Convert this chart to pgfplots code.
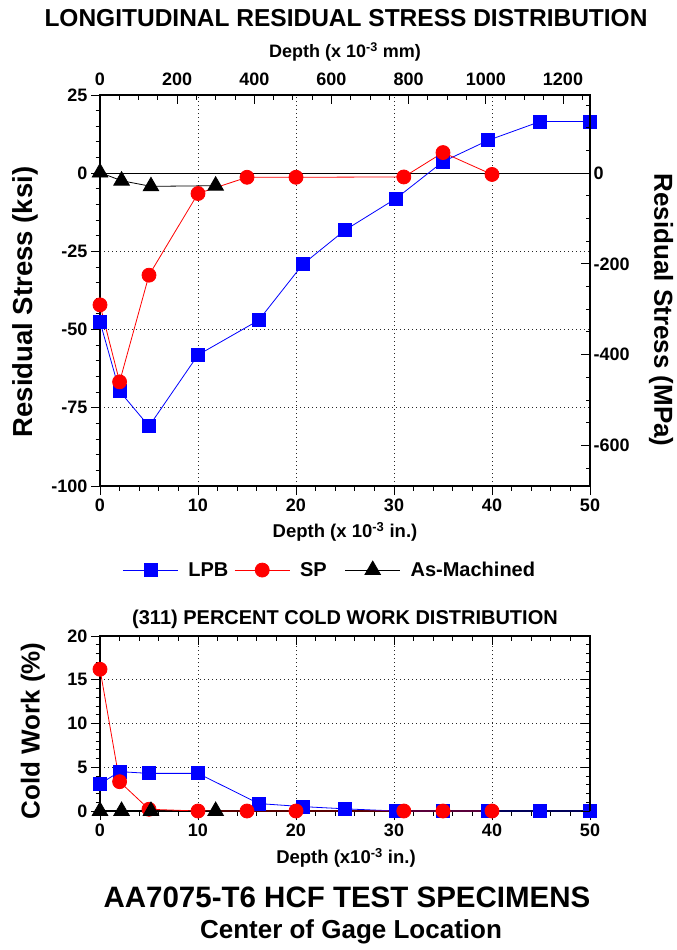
\documentclass[border=0pt]{standalone}
\usepackage{fontspec}
\setmainfont{Liberation Sans}
\usepackage{pgfplots}
\pgfplotsset{compat=1.18}

\newcommand{\fs}[1]{\fontsize{#1}{#1}\selectfont\bfseries}

\pgfplotsset{
  base/.style={scale only axis, width=490pt, clip=false, xmin=0, xmax=50,
    /pgf/number format/assume math mode=true,
    /pgf/number format/1000 sep={},
    tick label style={font=\fs{18}},
    axis line style={line width=1.4pt},
    major tick length=9pt, minor tick length=4.5pt,
    every tick/.style={black, line width=1pt},
  },
  griddots/.style={grid=major, major grid style={black!85, line width=1pt, dash pattern=on 1.1pt off 2.9pt}},
  lpb/.style={blue, line width=0.8pt, mark=square*, mark size=6.5pt, mark options={solid, fill=blue, draw=blue}},
  sp/.style={red, line width=0.8pt, mark=*, mark size=7pt, mark options={solid, fill=red, draw=red}},
  asm/.style={black, line width=0.8pt, mark=triangle*, mark size=9pt, mark options={solid, fill=black}},
}

\begin{document}
\begin{tikzpicture}

% residual stress, ksi and inches
\begin{axis}[base, at={(100pt,-486pt)}, anchor=south west, height=391pt,
  ymin=-100, ymax=25,
  xtick={0,10,...,50}, ytick={-100,-75,...,25},
  minor x tick num=4, minor y tick num=4,
  xtick pos=lower, ytick pos=left, tick align=outside,
  griddots,
  extra y ticks={0}, extra y tick labels={},
  extra y tick style={grid=major, major grid style={solid, black, line width=1.3pt}, major tick length=0pt},
  legend style={at={(0.469,-0.215)}, anchor=center, draw=none, fill=none,
    legend columns=3, font=\fs{20}},
  legend cell align=left,
  legend image code/.code={\draw[mark repeat=2, mark phase=2, #1] plot coordinates {(0pt,0pt) (27.5pt,0pt) (55pt,0pt)};},
]
\addplot[lpb] coordinates {(0,-47.5)(2,-69.7)(5,-80.9)(10,-58.1)(16.2,-47)(20.7,-29.1)(25,-18.2)(30.2,-8.1)(35,3.7)(39.6,10.5)(44.9,16.5)(50,16.5)};
\addlegendentry{\hspace{8pt}LPB\hspace*{4pt}\mbox{}}
\addplot[sp] coordinates {(0,-42.1)(2,-66.7)(5,-32.6)(10,-6.5)(15,-1.3)(20,-1.3)(31,-1.2)(35,6.6)(40,-0.4)};
\addlegendentry{\hspace{8pt}SP\hspace*{16pt}\mbox{}}
\addplot[asm] coordinates {(0,0.2)(2.2,-2.4)(5.2,-4.2)(11.8,-4.0)};
\addlegendentry{\hspace{8pt}As-Machined}
\end{axis}

% residual stress, MPa and mm
\begin{axis}[base, at={(100pt,-486pt)}, anchor=south west, height=391pt,
  xmin=0, xmax=1270, ymin=-689.5, ymax=172.4,
  axis x line*=top, axis y line*=right, tick align=inside,
  xtick={0,200,...,1400}, minor x tick num=3,
  ytick={-800,-600,...,200}, minor y tick num=3,
  xticklabel style={yshift=6pt},
]
\end{axis}

% cold work
\begin{axis}[base, at={(100pt,-811pt)}, anchor=south west, height=175pt,
  ymin=0, ymax=20,
  xtick={0,10,...,50}, ytick={0,5,...,20},
  minor x tick num=4, minor y tick num=4,
  xtick pos=lower, ytick pos=left, tick align=outside,
  griddots,
]
\addplot[lpb] coordinates {(0,3.1)(2,4.5)(5,4.3)(10,4.3)(16.2,0.85)(20.7,0.5)(25,0.25)(30.2,0)(35,0)(39.6,0)(44.9,0)(50,0)};
\addplot[sp] coordinates {(0,16.2)(2,3.35)(5,0.2)(10,0)(15,0)(20,0)(31,0)(35,0)(40,0)};
\addplot[asm] coordinates {(0,0)(2.2,0)(5.2,0)(11.8,0)};
\end{axis}

\begin{axis}[base, at={(100pt,-811pt)}, anchor=south west, height=175pt,
  ymin=0, ymax=20,
  axis x line*=top, axis y line*=right, tick align=inside,
  xtick={0,10,...,50}, ytick={0,5,...,20},
  minor x tick num=4, minor y tick num=4,
  xticklabels={}, yticklabels={},
]
\end{axis}

\node[font=\fs{24.5}] at (346pt,-18pt) {LONGITUDINAL RESIDUAL STRESS DISTRIBUTION};
\node[font=\fs{18}] at (345pt,-52pt) {Depth (x 10\textsuperscript{-3} mm)};
\node[font=\fs{18.5}] at (345pt,-532pt) {Depth (x 10\textsuperscript{-3} in.)};
\node[font=\fs{27.5}, rotate=90] at (25pt,-302pt) {Residual Stress (ksi)};
\node[font=\fs{26}, rotate=-90] at (661pt,-310pt) {Residual Stress (MPa)};
\node[font=\fs{20}] at (345pt,-619pt) {(311) PERCENT COLD WORK DISTRIBUTION};
\node[font=\fs{26}, rotate=90] at (33pt,-731pt) {Cold Work (\%)};
\node[font=\fs{18.5}] at (346pt,-858pt) {Depth (x10\textsuperscript{-3} in.)};
\node[font=\fs{29.5}] at (347pt,-897pt) {AA7075-T6 HCF TEST SPECIMENS};
\node[font=\fs{26}] at (351pt,-932pt) {Center of Gage Location};

\pgfresetboundingbox
\path (0pt,0pt) rectangle (677pt,-950pt);
\end{tikzpicture}
\end{document}
